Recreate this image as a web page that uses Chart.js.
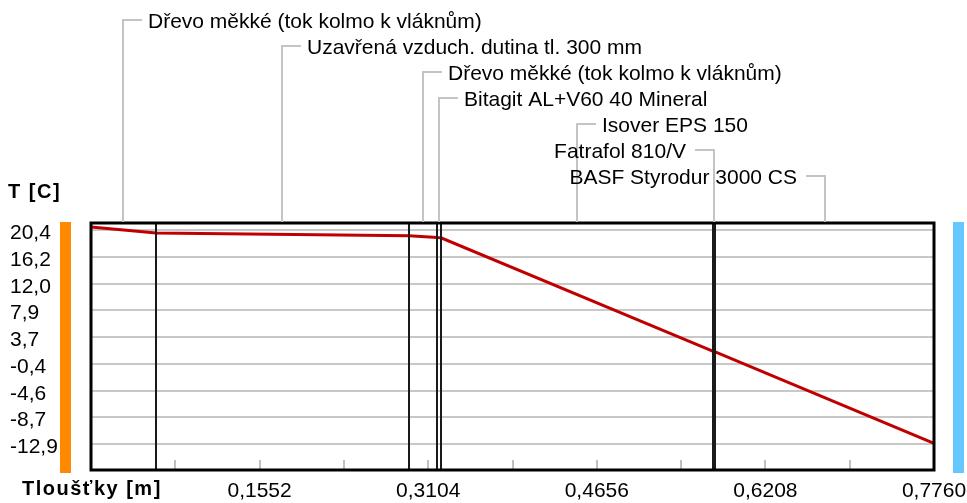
<!DOCTYPE html>
<html>
<head>
<meta charset="utf-8">
<script src="https://cdn.jsdelivr.net/npm/chart.js@4.4.1/dist/chart.umd.min.js"></script>
<style>
html, body { margin: 0; padding: 0; background: #fff; }
canvas { display: block; }
</style>
</head>
<body>
<canvas id="myChart" width="967" height="503"></canvas>
<script>
// Vrstvy konstrukce (zleva doprava)
var layerNames = ['Dřevo měkké (tok kolmo k vláknům)', 'Uzavřená vzduch. dutina tl. 300 mm', 'Dřevo měkké (tok kolmo k vláknům)',
    'Bitagit AL+V60 40 Mineral', 'Isover EPS 150', 'Fatrafol 810/V', 'BASF Styrodur 3000 CS'];
// rozhraní vrstev [m]
var layerBounds = [0, 0.0598, 0.2927, 0.3185, 0.3222, 0.5728, 0.5746, 0.776];
// průběh teploty v konstrukci
var thickness = [0, 0.0598, 0.2927, 0.3185, 0.3222, 0.5728, 0.5746, 0.776];
var temperature = [20.85, 19.9, 19.5, 19.2, 19.18, 1.55, 1.45, -12.75];
// popisky os
var yTicks = [20.4, 16.2, 12.0, 7.9, 3.7, -0.4, -4.6, -8.7, -12.9];
var xTicks = [0, 0.0776, 0.1552, 0.2328, 0.3104, 0.388, 0.4656, 0.5432, 0.6208, 0.6984, 0.776];
var yMin = -16.89, yMax = 21.47;

var FONT = 'Liberation Sans';

function comma(v, d) {
    return v.toFixed(d).replace('.', ',');
}

// kreslení vrstev, popisků a rámečku
const wallPlugin = {
    id: 'wall',
    beforeDraw(chart) {
        const ctx = chart.ctx, a = chart.chartArea;
        ctx.save();
        // interiér / exteriér
        ctx.fillStyle = '#ff8a00';
        ctx.fillRect(a.left - 31, a.top - 1, 11, a.bottom - a.top + 4);
        ctx.fillStyle = '#66c7ff';
        ctx.fillRect(a.right + 19, a.top - 1, 11, a.bottom - a.top + 4);
        ctx.restore();
    },
    afterDatasetsDraw(chart) {
        const ctx = chart.ctx, a = chart.chartArea, x = chart.scales.x;
        ctx.save();
        // značky osy x uvnitř grafu
        ctx.strokeStyle = '#c0c0c0';
        ctx.lineWidth = 2;
        x.ticks.forEach((t, i) => {
            const px = Math.round(x.getPixelForTick(i));
            ctx.beginPath();
            ctx.moveTo(px, a.bottom);
            ctx.lineTo(px, a.bottom - 10);
            ctx.stroke();
        });
        // rozhraní vrstev
        ctx.strokeStyle = '#1a1a1a';
        ctx.lineWidth = 2;
        for (var i = 1; i < layerBounds.length - 1; i++) {
            const px = Math.round(x.getPixelForValue(layerBounds[i]));
            ctx.beginPath();
            ctx.moveTo(px, a.top);
            ctx.lineTo(px, a.bottom);
            ctx.stroke();
        }
        ctx.restore();
    },
    afterDraw(chart) {
        const ctx = chart.ctx, a = chart.chartArea, x = chart.scales.x;
        ctx.save();
        ctx.strokeStyle = '#000';
        ctx.lineWidth = 3;
        ctx.strokeRect(a.left, a.top, a.right - a.left, a.bottom - a.top);

        // popisky vrstev s vodicími čarami
        ctx.font = '21px "' + FONT + '"';
        ctx.fillStyle = '#000';
        ctx.textBaseline = 'alphabetic';
        for (var i = 0; i < layerNames.length; i++) {
            const mid = (layerBounds[i] + layerBounds[i + 1]) / 2;
            const px = Math.round(x.getPixelForValue(mid));
            const rowY = 20 + i * 26;
            const left = (px - a.left) / (a.right - a.left) > 0.65;
            ctx.strokeStyle = '#c4c4c4';
            ctx.lineWidth = 2;
            ctx.beginPath();
            ctx.moveTo(px, a.top - 1);
            ctx.lineTo(px, rowY);
            ctx.lineTo(left ? px - 19 : px + 19, rowY);
            ctx.stroke();
            ctx.textAlign = left ? 'right' : 'left';
            ctx.fillText(layerNames[i], left ? px - 28 : px + 25, rowY + 8);
        }

        // názvy os
        ctx.font = 'bold 20px "' + FONT + '"';
        ctx.letterSpacing = '1.5px';
        ctx.textAlign = 'left';
        ctx.fillText('T [C]', 8, 198);
        ctx.fillText('Tloušťky [m]', 22, 495);
        ctx.restore();
    }
};

const ctx = document.getElementById('myChart');
const chart = new Chart(ctx, {
    type: 'line',
    data: {
        datasets: [{
            data: thickness.map((t, i) => ({ x: t, y: temperature[i] })),
            borderColor: '#c00000',
            borderWidth: 3,
            pointRadius: 0,
            tension: 0,
            fill: false
        }]
    },
    options: {
        responsive: false,
        animation: false,
        devicePixelRatio: 1,
        layout: { padding: { left: 10, top: 223, right: 33, bottom: 0 } },
        plugins: {
            legend: { display: false },
            tooltip: { enabled: false }
        },
        scales: {
            x: {
                type: 'linear',
                min: 0,
                max: 0.776,
                afterBuildTicks: s => { s.ticks = xTicks.map(v => ({ value: v })); },
                afterFit: s => { s.height = 33; s.paddingLeft = 0; s.paddingRight = 0; },
                border: { display: false },
                grid: { display: false, drawTicks: false },
                ticks: {
                    autoSkip: false,
                    maxRotation: 0,
                    padding: 9,
                    color: '#000',
                    font: { family: FONT, size: 21 },
                    callback: (v, i) => (i > 0 && i % 2 === 0) ? comma(v, 4) : ''
                }
            },
            y: {
                min: yMin,
                max: yMax,
                afterBuildTicks: s => { s.ticks = yTicks.map(v => ({ value: v })); },
                afterFit: s => { s.width = 81; },
                border: { display: false },
                grid: { color: '#c8c8c8', lineWidth: 2, drawTicks: false },
                ticks: {
                    autoSkip: false,
                    crossAlign: 'far',
                    labelOffset: 3,
                    color: '#000',
                    font: { family: FONT, size: 21 },
                    callback: v => comma(v, 1)
                }
            }
        }
    },
    plugins: [wallPlugin]
});
</script>
</body>
</html>
